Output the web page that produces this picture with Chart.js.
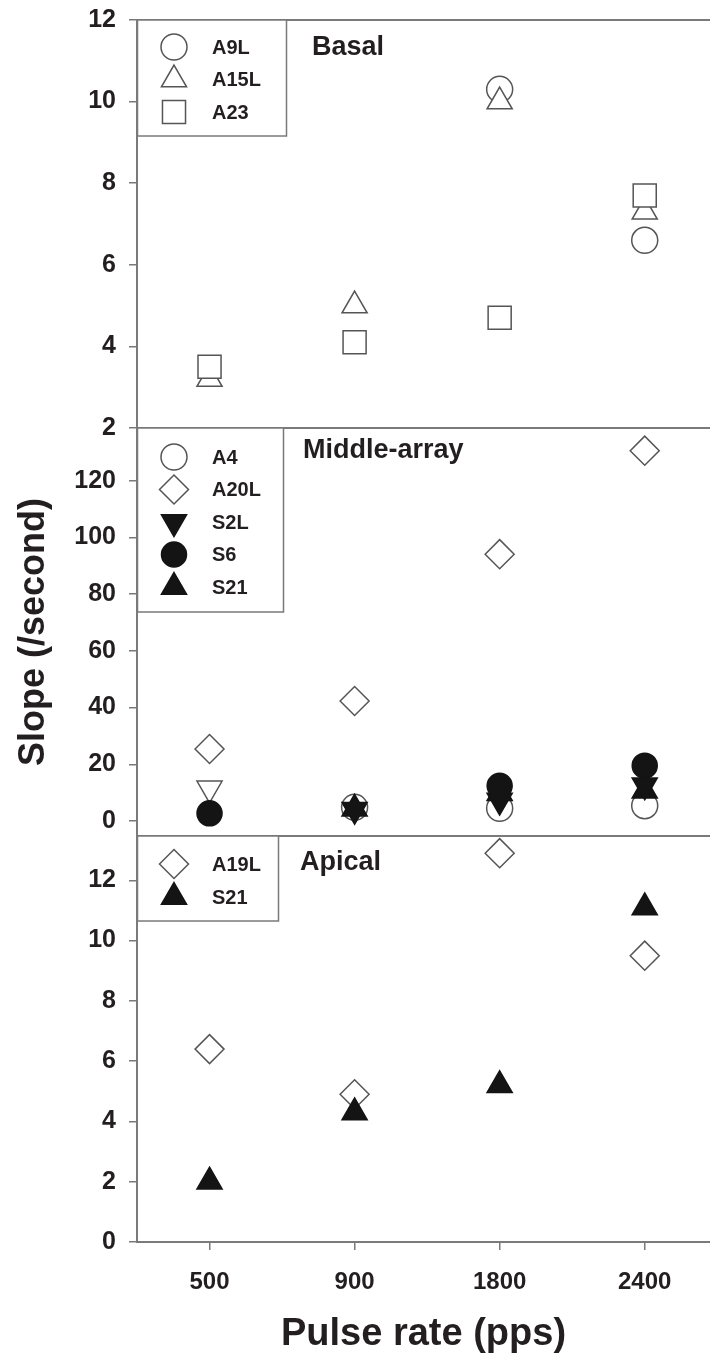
<!DOCTYPE html>
<html>
<head>
<meta charset="utf-8">
<script src="https://cdn.jsdelivr.net/npm/chart.js@4.4.0/dist/chart.umd.min.js"></script>
<style>
  html, body { margin: 0; padding: 0; background: #fff; overflow: hidden; }
  #wrap { position: relative; width: 710px; height: 1357px; }
  canvas { position: absolute; left: 0; }
</style>
</head>
<body>
<div id="wrap">
  <canvas id="basal" width="710" height="450" style="top:0px"></canvas>
  <canvas id="middle" width="710" height="460" style="top:400px"></canvas>
  <canvas id="apical" width="710" height="557" style="top:800px"></canvas>
</div>
<script>
const pulseRates = ['500', '900', '1800', '2400'];

// Basal electrodes
const basalA9L = [null, null, 10.3, 6.6];
const basalA15L = [3.2, 5.0, 10.0, 7.3];
const basalA23 = [3.5, 4.1, 4.7, 7.7];

// Middle-array electrodes
const midA4 = [null, 4.8, 4.5, 5.4];
const midA20L = [25.4, 42.3, 94.1, 130.6];
const midS2L = [11.5, 4.0, 7.2, 12.6];
const midS6 = [2.7, null, 12.4, 19.5];
const midS21 = [null, 4.3, 9.8, 10.7];

// Apical electrodes
const apiA19L = [6.4, 4.9, 12.9, 9.5];
const apiS21 = [2.0, 4.3, 5.2, 11.1];

const basalRange = [2, 12, 2];
const middleRange = [-5.3, 138.6, 20];
const apicalRange = [0, 13.47, 2];

const FONT = '"Liberation Sans", Arial, sans-serif';
const TEXT = '#231f20';
const AXIS = '#7a7a7a';
const GREY = '#555555';
const INK = '#141414';

const SHAPES = {
  circle: { style: 'circle', rot: 0, r: 13 },
  dot: { style: 'circle', rot: 0, r: 12.5 },
  tri: { style: 'triangle', rot: 0, r: 14.5 },
  triDown: { style: 'triangle', rot: 180, r: 14.5 },
  square: { style: 'rect', rot: 0, r: 16.3 },
  diamond: { style: 'rectRot', rot: 0, r: 14.5 }
};

function series(label, values, shape, filled, order) {
  const s = SHAPES[shape];
  return {
    label,
    data: values.map((v, i) => ({ x: i, y: v })),
    pointStyle: s.style,
    pointRotation: s.rot,
    pointRadius: s.r,
    pointHoverRadius: s.r,
    pointBorderWidth: 1.5,
    pointBackgroundColor: filled ? INK : '#fff',
    pointBorderColor: filled ? INK : GREY,
    legendFill: filled ? INK : '#fff',
    legendStroke: filled ? INK : GREY,
    order,
    clip: false
  };
}

// the x scale should run right up to the page edge, as in the figure
const stretchX = {
  id: 'stretchX',
  afterLayout(chart) {
    const x = chart.scales.x, a = chart.chartArea;
    a.right = chart.width;
    a.width = a.right - a.left;
    x.right = a.right;
    x.width = a.width;
    x.configure();
  }
};

const boxLegend = {
  id: 'boxLegend',
  afterDatasetsDraw(chart, args, opts) {
    const ctx = chart.ctx, a = chart.chartArea;
    ctx.save();
    ctx.lineWidth = 2;
    ctx.strokeStyle = AXIS;
    ctx.beginPath();
    if (opts.topLine) { ctx.moveTo(a.left, a.top); ctx.lineTo(a.right, a.top); }
    if (opts.bottomLine) { ctx.moveTo(a.left, a.bottom); ctx.lineTo(a.right, a.bottom); }
    ctx.stroke();

    ctx.fillStyle = '#fff';
    ctx.lineWidth = 1.5;
    ctx.fillRect(a.left, a.top, opts.width, opts.height);
    ctx.strokeRect(a.left + 0.5, a.top, opts.width, opts.height);
    chart.data.datasets.forEach((ds, i) => {
      const y = a.top + opts.first + i * opts.gap;
      ctx.fillStyle = ds.legendFill;
      ctx.strokeStyle = ds.legendStroke;
      ctx.lineWidth = 1.5;
      Chart.helpers.drawPoint(ctx, {
        pointStyle: ds.pointStyle, rotation: ds.pointRotation,
        radius: ds.pointRadius, borderWidth: 1.5
      }, a.left + 37, y);
      ctx.fillStyle = TEXT;
      ctx.font = 'bold 20px ' + FONT;
      ctx.textAlign = 'left';
      ctx.textBaseline = 'middle';
      ctx.fillText(ds.label, a.left + 75, y + 1);
    });
    ctx.fillStyle = TEXT;
    ctx.font = 'bold 27px ' + FONT;
    ctx.textBaseline = 'alphabetic';
    ctx.fillText(opts.title, opts.titleX, a.top + opts.titleBase);
    ctx.restore();
  }
};

function yAxis(range, title) {
  return {
    min: range[0], max: range[1],
    afterFit: s => { s.width = 137; s.paddingTop = 0; s.paddingBottom = 0; },
    border: { display: true, color: AXIS, width: 2 },
    grid: { drawOnChartArea: false, drawTicks: true, tickLength: 8, color: AXIS, lineWidth: 1.5 },
    ticks: {
      stepSize: range[2], includeBounds: false, padding: 13,
      color: TEXT, font: { family: FONT, size: 25, weight: 'bold' }
    },
    title: title ? {
      display: true, text: title, color: TEXT, padding: { top: 12, bottom: 0 },
      font: { family: FONT, size: 36, weight: 'bold' }
    } : { display: false }
  };
}

function xAxis(show) {
  return {
    type: 'linear', min: -0.5, max: 3.45, display: show,
    afterFit: s => {
      if (show) s.height = 115;
      s.paddingLeft = 0;
      s.paddingRight = 0;
    },
    border: { display: true, color: AXIS, width: 2 },
    grid: { drawOnChartArea: false, drawTicks: true, tickLength: 8, color: AXIS, lineWidth: 1.5 },
    ticks: {
      stepSize: 1, includeBounds: false, padding: 18,
      color: TEXT, font: { family: FONT, size: 24, weight: 'bold' },
      callback: v => pulseRates[v]
    },
    title: {
      display: true, text: 'Pulse rate (pps)', color: TEXT, padding: { top: 0, bottom: 0 },
      font: { family: FONT, size: 38, weight: 'bold' }
    }
  };
}

function makeChart(id, datasets, range, padding, legend, showX, yTitle) {
  return new Chart(document.getElementById(id), {
    type: 'scatter',
    data: { datasets },
    options: {
      responsive: false,
      animation: false,
      events: [],
      layout: { padding },
      scales: { x: xAxis(showX), y: yAxis(range, yTitle) },
      plugins: { legend: { display: false }, tooltip: { enabled: false }, boxLegend: legend }
    },
    plugins: [stretchX, boxLegend]
  });
}

makeChart('basal', [
  series('A9L', basalA9L, 'circle', false, 2),
  series('A15L', basalA15L, 'tri', false, 1),
  series('A23', basalA23, 'square', false, 0)
], basalRange, { top: 20, bottom: 22, left: 0, right: 0 },
{ width: 149, height: 116, first: 27, gap: 32.5, title: 'Basal', titleX: 312, titleBase: 35, topLine: true, bottomLine: true },
false, null);

const s2l = series('S2L', midS2L, 'triDown', true, 1);
s2l.pointBackgroundColor = ['#fff', INK, INK, INK];
s2l.pointBorderColor = [GREY, INK, INK, INK];

makeChart('middle', [
  series('A4', midA4, 'circle', false, 3),
  series('A20L', midA20L, 'diamond', false, 4),
  s2l,
  series('S6', midS6, 'dot', true, 0),
  series('S21', midS21, 'tri', true, 2)
], middleRange, { top: 28, bottom: 24, left: 0, right: 0 },
{ width: 146, height: 184, first: 29, gap: 32.5, title: 'Middle-array', titleX: 303, titleBase: 30, topLine: true, bottomLine: true },
false, 'Slope (/second)');

makeChart('apical', [
  series('A19L', apiA19L, 'diamond', false, 1),
  series('S21', apiS21, 'tri', true, 0)
], apicalRange, { top: 36, bottom: 0, left: 0, right: 0 },
{ width: 141, height: 85, first: 28, gap: 33, title: 'Apical', titleX: 300, titleBase: 34, topLine: false, bottomLine: false },
true, null);
</script>
</body>
</html>
